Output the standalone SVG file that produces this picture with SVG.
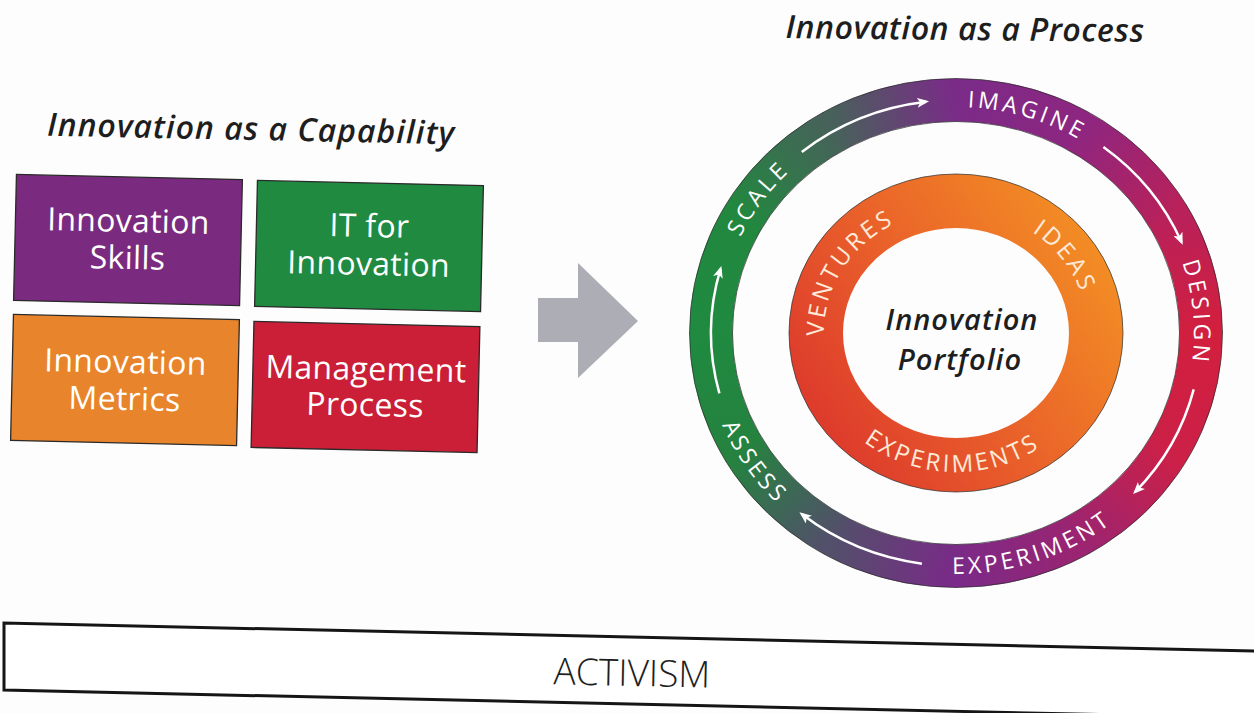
<svg xmlns="http://www.w3.org/2000/svg" xmlns:xlink="http://www.w3.org/1999/xlink" width="1254" height="713" viewBox="0 0 1254 713">
<defs>
<style>
.title{font-family:"Open Sans","Liberation Sans",sans-serif;font-style:italic;font-weight:600;fill:#1e1e1e}
.box{stroke:#2a2a2a;stroke-width:1.3}
.btxt{font-family:"Open Sans","Liberation Sans",sans-serif;font-size:32px;fill:#ffffff;text-anchor:middle;letter-spacing:0.3px}
.ring{fill:none;stroke-width:43}
.rtxt{font-family:"Open Sans","Liberation Sans",sans-serif;font-size:23px;fill:#ffffff;letter-spacing:3.5px}
.itxt{font-family:"Open Sans","Liberation Sans",sans-serif;font-size:24px;fill:#fde9d8;letter-spacing:3px}
.arw{fill:none;stroke:#ffffff;stroke-width:2.5;marker-end:url(#ah)}
.edge{fill:none;stroke:#2b2b2b;stroke-width:1;opacity:0.7}
</style>
<marker id="ah" markerWidth="12" markerHeight="10" refX="9" refY="5" orient="auto" markerUnits="userSpaceOnUse">
<path d="M0,0 L12,5 L0,10 L3,5 Z" fill="#ffffff"/>
</marker>
<linearGradient id="g0" gradientUnits="userSpaceOnUse" x1="956" y1="100" x2="1078.5" y2="131.2"><stop offset="0" stop-color="#7a2b88"/><stop offset="1" stop-color="#8e2680"/></linearGradient>
<linearGradient id="g1" gradientUnits="userSpaceOnUse" x1="1078.5" y1="131.2" x2="1168.2" y2="216.5"><stop offset="0" stop-color="#8e2680"/><stop offset="1" stop-color="#b8215a"/></linearGradient>
<linearGradient id="g2" gradientUnits="userSpaceOnUse" x1="1168.2" y1="216.5" x2="1201" y2="333"><stop offset="0" stop-color="#b8215a"/><stop offset="1" stop-color="#d21f3e"/></linearGradient>
<linearGradient id="g3" gradientUnits="userSpaceOnUse" x1="1201" y1="333" x2="1168.2" y2="449.5"><stop offset="0" stop-color="#d21f3e"/><stop offset="1" stop-color="#cc2047"/></linearGradient>
<linearGradient id="g4" gradientUnits="userSpaceOnUse" x1="1168.2" y1="449.5" x2="1078.5" y2="534.8"><stop offset="0" stop-color="#cc2047"/><stop offset="1" stop-color="#9c2470"/></linearGradient>
<linearGradient id="g5" gradientUnits="userSpaceOnUse" x1="1078.5" y1="534.8" x2="956" y2="566"><stop offset="0" stop-color="#9c2470"/><stop offset="1" stop-color="#7a2a88"/></linearGradient>
<linearGradient id="g6" gradientUnits="userSpaceOnUse" x1="956" y1="566" x2="833.5" y2="534.8"><stop offset="0" stop-color="#7a2a88"/><stop offset="1" stop-color="#52506a"/></linearGradient>
<linearGradient id="g7" gradientUnits="userSpaceOnUse" x1="833.5" y1="534.8" x2="743.8" y2="449.5"><stop offset="0" stop-color="#52506a"/><stop offset="1" stop-color="#25823f"/></linearGradient>
<linearGradient id="g8" gradientUnits="userSpaceOnUse" x1="743.8" y1="449.5" x2="711" y2="333"><stop offset="0" stop-color="#25823f"/><stop offset="1" stop-color="#1f8a40"/></linearGradient>
<linearGradient id="g9" gradientUnits="userSpaceOnUse" x1="711" y1="333" x2="743.8" y2="216.5"><stop offset="0" stop-color="#1f8a40"/><stop offset="1" stop-color="#22873f"/></linearGradient>
<linearGradient id="g10" gradientUnits="userSpaceOnUse" x1="743.8" y1="216.5" x2="833.5" y2="131.2"><stop offset="0" stop-color="#22873f"/><stop offset="1" stop-color="#47625a"/></linearGradient>
<linearGradient id="g11" gradientUnits="userSpaceOnUse" x1="833.5" y1="131.2" x2="956" y2="100"><stop offset="0" stop-color="#47625a"/><stop offset="1" stop-color="#7a2b88"/></linearGradient>
<linearGradient id="og" gradientUnits="userSpaceOnUse" x1="820" y1="430" x2="1100" y2="240"><stop offset="0" stop-color="#dd3a2c"/><stop offset="0.45" stop-color="#e9602a"/><stop offset="1" stop-color="#f38e24"/></linearGradient>
<path id="pImagine" d="M864.9,124.2 A238,226 0 0 1 1156.7,211.6"/>
<path id="pDesign" d="M1124.3,173.2 A238,226 0 0 1 1151,462.6"/>
<path id="pScale" d="M718.9,352.7 A238,226 0 0 1 894.4,114.7"/>
<path id="pExperiment" d="M865.3,558 A253,241 0 0 0 1172.9,457.1"/>
<path id="pAssess" d="M704.6,305.7 A253,241 0 0 0 884.1,564.1"/>
<path id="pVentures" d="M841.7,395 A131,123 0 0 1 956,210"/>
<path id="pIdeas" d="M943.4,210.6 A131,123 0 0 1 1076.1,384.4"/>
<path id="pExperiments" d="M825.7,399.4 A149,141 0 0 0 1081.9,406.6"/>
</defs>
<rect x="0" y="0" width="1254" height="713" fill="#fdfdfd"/>

<g id="title-capability">
<text class="title" x="251" y="140" font-size="32" letter-spacing="1" text-anchor="middle" transform="rotate(1.2 251 140)">Innovation as a Capability</text>
</g>
<g id="title-process">
<text class="title" x="965" y="40" font-size="32" letter-spacing="0.6" text-anchor="middle" transform="rotate(0.6 965 40)">Innovation as a Process</text>
</g>

<g id="box-skills" transform="rotate(1.3 128 240)">
<rect class="box" x="15" y="177" width="226" height="126" fill="#7b2b7f"/>
<text class="btxt" x="128" y="232">Innovation</text>
<text class="btxt" x="128" y="269">Skills</text>
</g>
<g id="box-it" transform="rotate(1.3 369 246)">
<rect class="box" x="256" y="183" width="226" height="126" fill="#1f8a40"/>
<text class="btxt" x="369" y="237">IT for</text>
<text class="btxt" x="369" y="275">Innovation</text>
</g>
<g id="box-metrics" transform="rotate(1.3 125 380)">
<rect class="box" x="12" y="317" width="226" height="126" fill="#e8842b"/>
<text class="btxt" x="125" y="373">Innovation</text>
<text class="btxt" x="125" y="410">Metrics</text>
</g>
<g id="box-management" transform="rotate(1.3 365.5 387)">
<rect class="box" x="252.5" y="324" width="226" height="126" fill="#ca1f36"/>
<text class="btxt" x="365.5" y="380">Management</text>
<text class="btxt" x="365.5" y="416">Process</text>
</g>

<g id="connectors">
<polygon id="big-arrow" points="538,298 578,298 578,263 638,321 578,378 578,342 538,342" fill="#adadb5"/>
</g>

<g id="process-ring">
<path class="ring" stroke="url(#g0)" d="M955.5,100 A245,233 0 0 1 1078.5,131.2"/>
<path class="ring" stroke="url(#g1)" d="M1077.5,130.8 A245,233 0 0 1 1168.2,216.5"/>
<path class="ring" stroke="url(#g2)" d="M1167.8,215.5 A245,233 0 0 1 1201,333"/>
<path class="ring" stroke="url(#g3)" d="M1201,332 A245,233 0 0 1 1168.2,449.5"/>
<path class="ring" stroke="url(#g4)" d="M1168.8,448.5 A245,233 0 0 1 1078.5,534.8"/>
<path class="ring" stroke="url(#g5)" d="M1079.5,534.4 A245,233 0 0 1 956,566"/>
<path class="ring" stroke="url(#g6)" d="M957,566 A245,233 0 0 1 833.5,534.8"/>
<path class="ring" stroke="url(#g7)" d="M834.5,535.3 A245,233 0 0 1 743.8,449.5"/>
<path class="ring" stroke="url(#g8)" d="M744.3,450.4 A245,233 0 0 1 711,333"/>
<path class="ring" stroke="url(#g9)" d="M711,334 A245,233 0 0 1 743.8,216.5"/>
<path class="ring" stroke="url(#g10)" d="M743.3,217.4 A245,233 0 0 1 833.5,131.2"/>
<path class="ring" stroke="url(#g11)" d="M832.6,131.6 A245,233 0 0 1 956.5,100"/>
<ellipse class="edge" cx="956" cy="333" rx="266.5" ry="254.5"/>
<ellipse class="edge" cx="956" cy="333" rx="223.5" ry="211.5"/>
<path class="arw" d="M801.8,151.9 A245,233 0 0 1 926.1,101.7"/>
<path class="arw" d="M1103.4,146.9 A245,233 0 0 1 1181.5,242"/>
<path class="arw" d="M1193.7,389.4 A245,233 0 0 1 1135.2,491.9"/>
<path class="arw" d="M921.9,563.7 A245,233 0 0 1 801.8,514.1"/>
<path class="arw" d="M719.4,393.3 A245,233 0 0 1 720.5,268.8"/>
<text class="rtxt"><textPath href="#pImagine" startOffset="50%" text-anchor="middle">IMAGINE</textPath></text>
<text class="rtxt"><textPath href="#pDesign" startOffset="50%" text-anchor="middle">DESIGN</textPath></text>
<text class="rtxt"><textPath href="#pExperiment" startOffset="50%" text-anchor="middle">EXPERIMENT</textPath></text>
<text class="rtxt"><textPath href="#pAssess" startOffset="50%" text-anchor="middle">ASSESS</textPath></text>
<text class="rtxt"><textPath href="#pScale" startOffset="50%" text-anchor="middle">SCALE</textPath></text>
</g>

<g id="portfolio">
<ellipse cx="956" cy="333" rx="140" ry="132" fill="none" stroke="url(#og)" stroke-width="54"/>
<ellipse class="edge" cx="956" cy="333" rx="167" ry="159"/>
<text class="itxt"><textPath href="#pVentures" startOffset="50%" text-anchor="middle">VENTURES</textPath></text>
<text class="itxt"><textPath href="#pIdeas" startOffset="50%" text-anchor="middle">IDEAS</textPath></text>
<text class="itxt"><textPath href="#pExperiments" startOffset="50%" text-anchor="middle">EXPERIMENTS</textPath></text>
<text class="title" x="962" y="330" font-size="29" letter-spacing="1" text-anchor="middle">Innovation</text>
<text class="title" x="960" y="370" font-size="29" letter-spacing="1" text-anchor="middle">Portfolio</text>
</g>

<g id="activism">
<path d="M1256,651 L4,623 L4,690 L1256,718" fill="#ffffff" stroke="#151515" stroke-width="3"/>
<text x="632" y="686" font-family="'Open Sans','Liberation Sans',sans-serif" font-weight="300" font-size="37" fill="#1e1e1e" text-anchor="middle" transform="rotate(1.2 632 672)">ACTIVISM</text>
</g>
</svg>
